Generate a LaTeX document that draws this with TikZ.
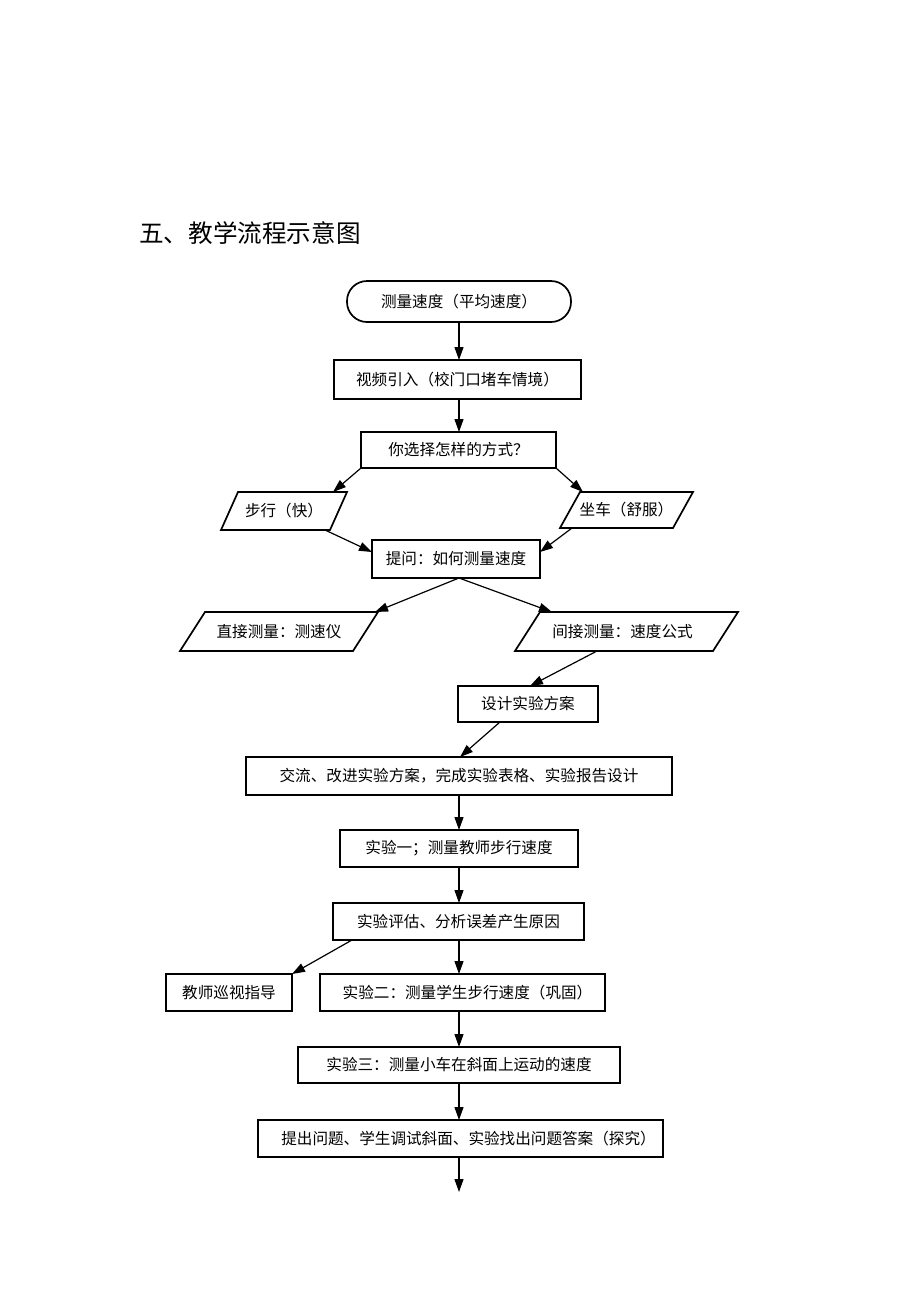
\documentclass[tikz,border=0pt]{standalone}
\usepackage{fontspec}
\setmainfont{Noto Sans CJK SC}
\usetikzlibrary{arrows.meta,calc}
\begin{document}
\begin{tikzpicture}[x=1pt,y=-1pt,
  boxline/.style={draw=black,line width=1.7pt},
  stepbox/.style={boxline,rectangle,inner sep=0pt,outer sep=0pt,font=\fontsize{15.6}{18}\selectfont},
  plain/.style={rectangle,inner sep=0pt,outer sep=0pt,font=\fontsize{15.6}{18}\selectfont},
  conn/.style={line width=1.2pt,-{Triangle[length=13pt,width=9pt]}}
]
\useasboundingbox[fill=white] (0,0) rectangle (920,1302);
\node[anchor=west,font=\fontsize{24.6}{28}\selectfont,inner sep=0pt] (title) at (139,233) {五、教学流程示意图};

\node[stepbox,rounded corners=20pt,minimum width=224pt,minimum height=41pt] (start) at (459,301.5) {测量速度（平均速度）};
\node[stepbox,minimum width=247pt,minimum height=39pt] (video) at (457.5,379.5) {视频引入（校门口堵车情境）};
\node[stepbox,minimum width=195pt,minimum height=36pt] (choose) at (458.5,450) {你选择怎样的方式？};

\node[plain,minimum width=126pt,minimum height=38pt] (walk) at (284,511) {步行（快）};
\draw[boxline] (walk.south west) -- ($(walk.south east)+(-17,0)$) -- (walk.north east) -- ($(walk.north west)+(17,0)$) -- cycle;
\node[plain,minimum width=133pt,minimum height=36pt] (car) at (626.5,510) {坐车（舒服）};
\draw[boxline] (car.south west) -- ($(car.south east)+(-20,0)$) -- (car.north east) -- ($(car.north west)+(20,0)$) -- cycle;

\node[stepbox,minimum width=168pt,minimum height=38pt] (ask) at (456,559) {提问：如何测量速度};

\node[plain,minimum width=198pt,minimum height=39pt] (direct) at (279,631.5) {直接测量：测速仪};
\draw[boxline] (direct.south west) -- ($(direct.south east)+(-25,0)$) -- (direct.north east) -- ($(direct.north west)+(25,0)$) -- cycle;
\node[plain,minimum width=223pt,minimum height=39pt] (indirect) at (626.5,631.5) {间接测量：速度公式\hspace*{8pt}};
\draw[boxline] (indirect.south west) -- ($(indirect.south east)+(-25,0)$) -- (indirect.north east) -- ($(indirect.north west)+(25,0)$) -- cycle;

\node[stepbox,minimum width=140pt,minimum height=36pt] (design) at (528,704) {设计实验方案};
\node[stepbox,minimum width=426pt,minimum height=38pt] (exchange) at (459,776) {交流、改进实验方案，完成实验表格、实验报告设计};
\node[stepbox,minimum width=238pt,minimum height=37pt] (exp1) at (459,848.5) {实验一；测量教师步行速度};
\node[stepbox,minimum width=251pt,minimum height=37pt] (eval) at (458.5,921.5) {实验评估、分析误差产生原因};
\node[stepbox,minimum width=126pt,minimum height=37pt] (teacher) at (229,992.5) {教师巡视指导};
\node[stepbox,minimum width=285pt,minimum height=37pt] (exp2) at (462.5,992.5) {\hspace*{10pt}实验二：测量学生步行速度（巩固）};
\node[stepbox,minimum width=322pt,minimum height=36pt] (exp3) at (459,1065) {实验三：测量小车在斜面上运动的速度};
\node[stepbox,minimum width=405pt,minimum height=37pt] (final) at (460.5,1138.5) {\hspace*{16pt}提出问题、学生调试斜面、实验找出问题答案（探究）};
\coordinate (end) at (459,1192);

\draw[conn] (start.south) -- (start.south |- video.north);
\draw[conn] (start.south |- video.south) -- (start.south |- choose.north);
\draw[conn] (choose.south west) -- ($(walk.north east)+(-14,0)$);
\draw[conn] (choose.south east) -- ($(car.north west)+(23,0)$);
\draw[conn] ($(walk.south east)+(-22,0)$) -- ($(ask.north west)+(0,12)$);
\draw[conn] ($(car.south west)+(12,0)$) -- ($(ask.north east)+(0,12)$);
\draw[conn] ($(ask.south)+(3,0)$) -- ($(direct.north east)+(-3,0)$);
\draw[conn] ($(ask.south)+(3,0)$) -- ($(indirect.north west)+(37,0)$);
\draw[conn] ($(indirect.south west)+(82,0)$) -- ($(design.north west)+(72,0)$);
\draw[conn] ($(design.south west)+(42,0)$) -- ($(exchange.north west)+(214,0)$);
\draw[conn] (exchange.south) -- (exp1.north);
\draw[conn] (exp1.south) -- (exp1.south |- eval.north);
\draw[conn] ($(eval.south west)+(19,0)$) -- (teacher.north east);
\draw[conn] (exp3.north |- eval.south) -- (exp3.north |- exp2.north);
\draw[conn] (exp3.north |- exp2.south) -- (exp3.north);
\draw[conn] (exp3.south) -- (exp3.south |- final.north);
\draw[conn] (exp3.south |- final.south) -- (end);
\end{tikzpicture}
\end{document}
